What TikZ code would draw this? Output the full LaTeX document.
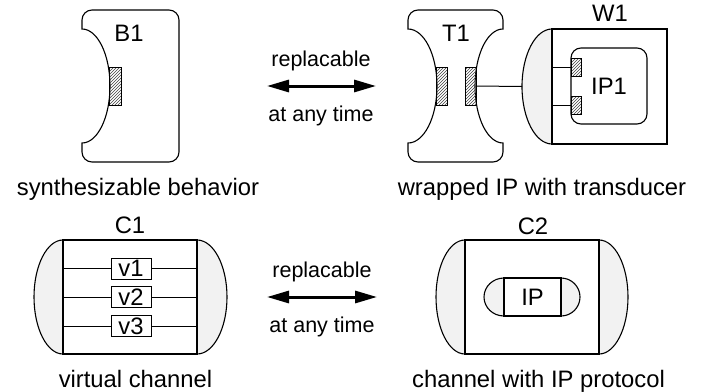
\documentclass[tikz,border=0pt]{standalone}
\usepackage{fontspec}
\setmainfont{Liberation Sans}
\usetikzlibrary{arrows.meta,patterns}

\definecolor{capgray}{HTML}{F2F2F2}

\tikzset{
  outline/.style={draw=black, line width=1.1pt},
  capfill/.style={draw=black, fill=capgray, line width=1.1pt},
  hatchbox/.style={draw=black, line width=0.9pt, pattern=north east lines, pattern color=black!75},
  lbl/.style={font=\fontsize{23.8}{28}\selectfont, inner sep=0pt, anchor=base},
  small/.style={font=\fontsize{21.5}{26}\selectfont, inner sep=0pt, anchor=base},
  vbox/.style={draw=black, line width=1pt, minimum width=40pt, minimum height=21pt, inner sep=0pt,
               font=\fontsize{23.8}{28}\selectfont},
  swaparrow/.style={line width=3pt, {Triangle[length=22pt,width=12pt]}-{Triangle[length=22pt,width=12pt]}},
  wire/.style={draw=black, line width=1pt},
}

\begin{document}
\begin{tikzpicture}[x=1pt, y=-1pt]
\useasboundingbox (0,0) rectangle (704,391);

% ---------- B1: synthesizable behavior ----------
\draw[outline] (82,29) -- (82,20) arc[start angle=180,end angle=270,radius=10]
  -- (169,10) arc[start angle=270,end angle=360,radius=10]
  -- (179,152) arc[start angle=0,end angle=90,radius=10]
  -- (92,162) arc[start angle=90,end angle=180,radius=10]
  -- (82,143) arc[start angle=90,end angle=-90,x radius=28,y radius=57] -- cycle;
\draw[hatchbox] (109,67) rectangle (121,105);
\node[lbl] (b1) at (129,41) {B1};
\node[lbl] (b1cap) at (138,195) {synthesizable behavior};

% ---------- T1: transducer ----------
\draw[outline] (408,29) -- (408,20) arc[start angle=180,end angle=270,radius=10]
  -- (493,10) arc[start angle=270,end angle=360,radius=10]
  -- (503,29) arc[start angle=270,end angle=90,x radius=28,y radius=57]
  -- (503,152) arc[start angle=0,end angle=90,radius=10]
  -- (418,162) arc[start angle=90,end angle=180,radius=10]
  -- (408,143) arc[start angle=90,end angle=-90,x radius=29,y radius=57] -- cycle;
\draw[hatchbox] (436,67) rectangle (447,105);
\draw[hatchbox] (465,67) rectangle (476,105);
\node[lbl] (t1) at (456,41.5) {T1};

% ---------- W1: wrapper around IP1 ----------
\draw[capfill] (552,29) arc[start angle=270,end angle=90,x radius=30,y radius=57.5] -- cycle;
\draw[outline] (552,29) rectangle (667,144);
\draw[outline, rounded corners=10pt] (571,48) rectangle (647,124);
\draw[hatchbox] (571,58) rectangle (581,76);
\draw[hatchbox] (571,96) rectangle (581,114);
\node[lbl] (w1) at (610,21.5) {W1};
\node[lbl] (ip1) at (609,94) {IP1};
\node[lbl] (wcap) at (542,195) {wrapped IP with transducer};

\coordinate (tport) at (476,86);
\coordinate (wcapl) at (522,86.5);
\draw[wire] (tport) -- (wcapl);
\coordinate (wa) at (552,67);  \coordinate (pa) at (571,67);
\coordinate (wb) at (552,105); \coordinate (pb) at (571,105);
\draw[wire] (wa) -- (pa);
\draw[wire] (wb) -- (pb);

% ---------- C1: virtual channel ----------
\draw[capfill] (63,240) arc[start angle=270,end angle=90,x radius=29,y radius=57] -- cycle;
\draw[capfill] (197,240) arc[start angle=-90,end angle=90,x radius=30,y radius=57] -- cycle;
\draw[outline] (63,240) rectangle (197,354);
\node[vbox] (v1) at (131,268.5) {v1};
\node[vbox] (v2) at (131,297) {v2};
\node[vbox] (v3) at (131,326) {v3};
\foreach \v in {v1,v2,v3}{
  \draw[wire] (\v.west) -- (63,0 |- \v.west);
  \draw[wire] (\v.east) -- (197,0 |- \v.east);
}
\node[lbl] (c1) at (130,233.5) {C1};
\node[lbl] (c1cap) at (135.5,387) {virtual channel};

% ---------- C2: channel with IP protocol ----------
\draw[capfill] (465,240) arc[start angle=270,end angle=90,x radius=29,y radius=57] -- cycle;
\draw[capfill] (599,240) arc[start angle=-90,end angle=90,x radius=29,y radius=57] -- cycle;
\draw[outline] (465,240) rectangle (599,354);
\draw[capfill] (504,278) arc[start angle=270,end angle=90,x radius=20,y radius=19] -- cycle;
\draw[capfill] (561,278) arc[start angle=-90,end angle=90,x radius=19,y radius=19] -- cycle;
\draw[outline] (504,278) rectangle (561,316);
\node[lbl] (ip) at (532.5,305.5) {IP};
\node[lbl] (c2) at (533,234) {C2};
\node[lbl] (c2cap) at (538.5,387) {channel with IP protocol};

% ---------- replaceability arrows ----------
\coordinate (ra1) at (267,86);  \coordinate (rb1) at (376,86);
\draw[swaparrow] (ra1) -- (rb1);
\node[small] (rep1) at (321,66) {replacable};
\node[small] (any1) at (321,121) {at any time};

\coordinate (ra2) at (267,297); \coordinate (rb2) at (377,297);
\draw[swaparrow] (ra2) -- (rb2);
\node[small] (rep2) at (322,277) {replacable};
\node[small] (any2) at (322,332) {at any time};
\end{tikzpicture}
\end{document}
